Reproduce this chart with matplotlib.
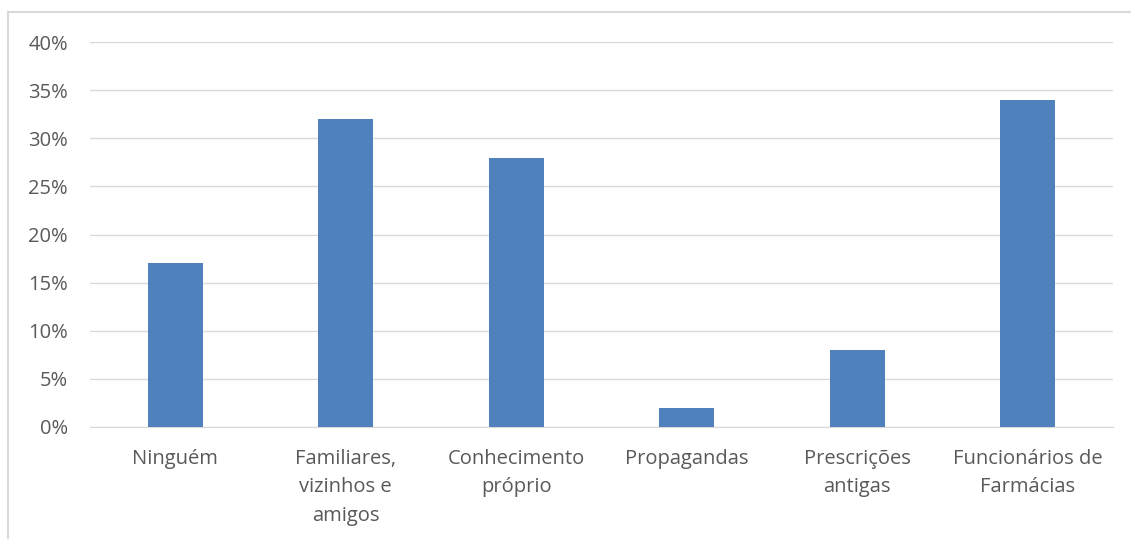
import matplotlib.pyplot as plt
from matplotlib.lines import Line2D
from matplotlib.ticker import FuncFormatter

categories = ['Ninguém', 'Familiares,\nvizinhos e\namigos', 'Conhecimento\npróprio',
              'Propagandas', 'Prescrições\nantigas', 'Funcionários de\nFarmácias']
values = [17, 32, 28, 2, 8, 34]
y_ticks = [0, 5, 10, 15, 20, 25, 30, 35, 40]

plt.rcParams['font.family'] = ['Open Sans', 'DejaVu Sans']
text_color = '#595959'

fig = plt.figure(figsize=(11.31, 5.39), dpi=100)
ax = fig.add_axes([90 / 1131, 1 - 427 / 539, 1023 / 1131, 385 / 539])

x = range(len(categories))
ax.bar(x, values, width=0.32, color='#4F81BD', zorder=3)

ax.set_xlim(-0.5, len(categories) - 0.5)
ax.set_ylim(0, 40)
ax.set_yticks(y_ticks)
ax.yaxis.set_major_formatter(FuncFormatter(lambda v, _: f'{v:.0f}%'))
ax.set_xticks(list(x))
ax.set_xticklabels(categories, linespacing=1.55)

ax.grid(axis='y', color='#D9D9D9', linewidth=1, zorder=0)
for side in ['top', 'right', 'left']:
    ax.spines[side].set_visible(False)
ax.spines['bottom'].set_color('#D9D9D9')
ax.tick_params(axis='both', length=0, colors=text_color, labelsize=14.5)
ax.tick_params(axis='y', pad=16)
ax.tick_params(axis='x', pad=16)

# chart area frame (left and top edges)
fig.add_artist(Line2D([8 / 1131, 8 / 1131], [0, 1 - 12 / 539], transform=fig.transFigure,
                      color='#D9D9D9', linewidth=1.5))
fig.add_artist(Line2D([8 / 1131, 1], [1 - 12 / 539, 1 - 12 / 539], transform=fig.transFigure,
                      color='#D9D9D9', linewidth=1.5))

fig.savefig('out.png', dpi=100)
